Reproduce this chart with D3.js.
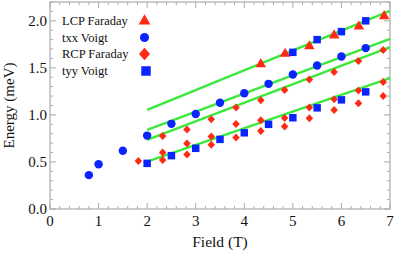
<!DOCTYPE html>
<html>
<head>
<meta charset="utf-8">
<script src="https://cdn.jsdelivr.net/npm/d3@7"></script>
<style>
  html, body { margin: 0; padding: 0; background: #fff; }
</style>
</head>
<body>
<div id="chart"></div>
<script>
// Data (Field in T, Energy in meV)
var lcpField  = [4.34, 4.84, 5.34, 5.85, 6.36, 6.88];
var lcpEnergy = [1.54, 1.65, 1.73, 1.845, 1.94, 2.05];

var txxField  = [0.8, 1.0, 1.5, 2.0, 2.5, 3.0, 3.5, 4.0, 4.5, 5.0, 5.5, 6.0, 6.5];
var txxEnergy = [0.36, 0.475, 0.62, 0.78, 0.905, 1.01, 1.13, 1.23, 1.33, 1.43, 1.525, 1.62, 1.71];

var rcpField  = [1.82,
                 2.32, 2.32, 2.32,
                 2.82, 2.82, 2.82,
                 3.32, 3.32, 3.32,
                 3.83, 3.83, 3.83,
                 4.34, 4.34, 4.34,
                 4.83, 4.83, 4.83,
                 5.34, 5.34, 5.34,
                 5.85, 5.85, 5.85,
                 6.35, 6.35, 6.35,
                 6.86, 6.86, 6.86];
var rcpEnergy = [0.51,
                 0.777, 0.60, 0.52,
                 0.845, 0.695, 0.58,
                 0.954, 0.77, 0.684,
                 1.078, 0.904, 0.76,
                 1.156, 0.944, 0.83,
                 1.266, 0.968, 0.876,
                 1.376, 1.078, 0.965,
                 1.457, 1.167, 1.053,
                 1.574, 1.26, 1.124,
                 1.69, 1.35, 1.20];

var tyyField  = [2.0, 2.5, 3.0, 3.5, 4.0, 4.5, 5.0, 5.5, 6.0, 6.5, 5.0, 5.5, 6.0, 6.5];
var tyyEnergy = [0.485, 0.567, 0.645, 0.74, 0.81, 0.90, 0.97, 1.075, 1.16, 1.245, 1.665, 1.80, 1.885, 2.0];

// fitted lines: start/end field and energy
var fitStartField = [2, 2, 2, 2];
var fitEndField   = [7, 7, 7, 7];
var fitStartE     = [1.053, 0.84, 0.734, 0.503];
var fitEndE       = [2.106, 1.809, 1.72, 1.39];

var xTicks = [0, 1, 2, 3, 4, 5, 6, 7];
var yTicks = [0, 0.5, 1.0, 1.5, 2.0];
var legendLabels = ['LCP Faraday', 'txx Voigt', 'RCP Faraday', 'tyy Voigt'];

var W = 395, H = 255;
var m = {l: 50, r: 5, t: 2, b: 46};
var RED = '#ff2a14', BLUE = '#0a24ff', GREEN = '#3be83b';
var SERIF = "'Liberation Serif', 'Times New Roman', Times, 'DejaVu Serif', serif";

var svg = d3.select('#chart').append('svg').attr('width', W).attr('height', H)
    .attr('font-family', SERIF).style('font-family', SERIF);

var x = d3.scaleLinear().domain([0, 7]).range([m.l, W - m.r]);
var y = d3.scaleLinear().domain([0, 2.2]).range([H - m.b, m.t]);

// frame
svg.append('rect').attr('x', m.l).attr('y', m.t)
    .attr('width', W - m.r - m.l).attr('height', H - m.b - m.t)
    .attr('fill', 'none').attr('stroke', '#999').attr('stroke-width', 1);

// ticks (inside, on all four sides)
var xMinor = d3.range(0, 7.0001, 0.2);
var yMinor = d3.range(0, 2.2001, 0.1);
var tk = svg.append('g').attr('stroke', '#aaa').attr('stroke-width', 1);
xMinor.forEach(function(v){
    var major = Math.abs(v - Math.round(v)) < 1e-6;
    var len = major ? 6 : 3;
    tk.append('line').attr('x1', x(v)).attr('x2', x(v)).attr('y1', y(0)).attr('y2', y(0) - len);
    tk.append('line').attr('x1', x(v)).attr('x2', x(v)).attr('y1', y(2.2)).attr('y2', y(2.2) + len);
});
yMinor.forEach(function(v){
    var major = Math.abs(v * 2 - Math.round(v * 2)) < 1e-6;
    var len = major ? 6 : 3;
    tk.append('line').attr('x1', x(0)).attr('x2', x(0) + len).attr('y1', y(v)).attr('y2', y(v));
    tk.append('line').attr('x1', x(7)).attr('x2', x(7) - len).attr('y1', y(v)).attr('y2', y(v));
});

svg.append('g').selectAll('text').data(xTicks).join('text')
    .attr('x', function(d){ return x(d); }).attr('y', y(0) + 17)
    .attr('text-anchor', 'middle').attr('font-size', '15px').attr('fill', '#111')
    .text(function(d){ return d; });
svg.append('g').selectAll('text').data(yTicks).join('text')
    .attr('x', x(0) - 3).attr('y', function(d){ return y(d) + 5; })
    .attr('text-anchor', 'end').attr('font-size', '15px').attr('fill', '#111')
    .text(function(d){ return d.toFixed(1); });

svg.append('text').attr('x', (x(0) + x(7)) / 2).attr('y', 247).attr('fill', '#111')
    .attr('text-anchor', 'middle').attr('font-size', '15.5px').text('Field (T)');
svg.append('text').attr('transform', 'translate(14,' + y(1.1) + ') rotate(-90)').attr('fill', '#111')
    .attr('text-anchor', 'middle').attr('font-size', '15px').text('Energy (meV)');

// fit lines
var plot = svg.append('g');
plot.selectAll('line.fit').data(fitStartE).join('line').attr('class', 'fit')
    .attr('x1', function(d, i){ return x(fitStartField[i]); })
    .attr('x2', function(d, i){ return x(fitEndField[i]); })
    .attr('y1', function(d){ return y(d); })
    .attr('y2', function(d, i){ return y(fitEndE[i]); })
    .attr('stroke', GREEN).attr('stroke-width', 2.4);

// diamond a bit wider than d3's symbolDiamond
function diamond(w, h){
    return 'M0,' + (-h / 2) + 'L' + (w / 2) + ',0L0,' + (h / 2) + 'L' + (-w / 2) + ',0Z';
}

var sym = {
    tri:  d3.symbol().type(d3.symbolTriangle).size(48)(),
    circ: d3.symbol().type(d3.symbolCircle).size(56)(),
    diam: diamond(7.5, 8),
    sq:   d3.symbol().type(d3.symbolSquare).size(56)()
};

function drawPoints(xs, ys, path, color){
    plot.append('g').selectAll('path').data(xs).join('path')
        .attr('transform', function(d, i){ return 'translate(' + x(d) + ',' + y(ys[i]) + ')'; })
        .attr('d', path).attr('fill', color);
}
drawPoints(rcpField, rcpEnergy, sym.diam, RED);
drawPoints(lcpField, lcpEnergy, sym.tri, RED);
drawPoints(txxField, txxEnergy, sym.circ, BLUE);
drawPoints(tyyField, tyyEnergy, sym.sq, BLUE);

// legend
var legSyms = [
    d3.symbol().type(d3.symbolTriangle).size(60)(),
    d3.symbol().type(d3.symbolCircle).size(64)(),
    diamond(11, 12.5),
    d3.symbol().type(d3.symbolSquare).size(90)()
];
var legColors = [RED, BLUE, RED, BLUE];
var legY = [21, 37.5, 54, 71];
var leg = svg.append('g');
legendLabels.forEach(function(lab, i){
    leg.append('text').attr('x', 62).attr('y', legY[i] + 4).attr('font-size', '12.5px')
        .attr('fill', '#111').text(lab);
    leg.append('path').attr('d', legSyms[i])
        .attr('transform', 'translate(' + (i === 3 ? 146 : 144.5) + ',' + legY[i] + ')')
        .attr('fill', legColors[i]);
});
</script>
</body>
</html>
